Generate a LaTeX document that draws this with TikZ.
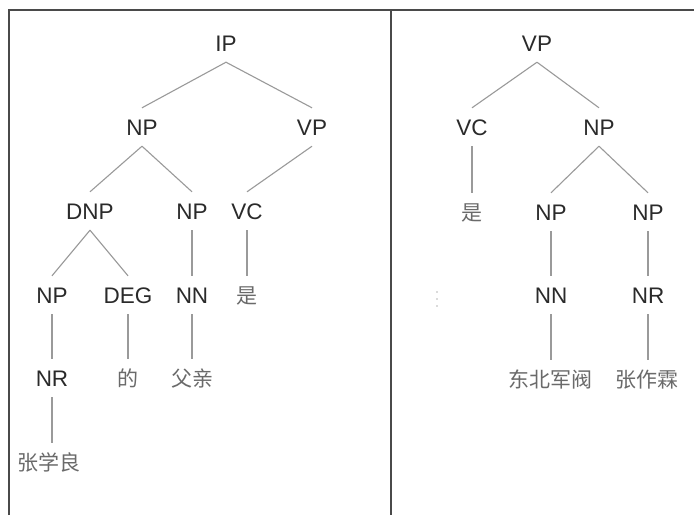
\documentclass[tikz,border=0pt]{standalone}
\usepackage{fontspec}
\setmainfont{Liberation Sans}
\newfontfamily\cjk{Noto Sans CJK SC}
\definecolor{labelc}{HTML}{2A2A2A}
\definecolor{wordc}{HTML}{6A6A6A}
\definecolor{edgec}{HTML}{9A9A9A}
\definecolor{framec}{HTML}{4A4A4A}
\tikzset{
  cat/.style={inner sep=0pt, text height=17pt, text depth=0pt, minimum height=38pt,
    font=\fontsize{22.5pt}{24pt}\selectfont, text=labelc},
  word/.style={inner sep=0pt, text height=17pt, text depth=0pt, minimum height=38pt,
    font=\fontsize{21pt}{24pt}\selectfont\cjk, text=wordc},
  edge/.style={draw=edgec, line width=1.1pt},
  frameline/.style={draw=framec, line width=1.5pt},
  speck/.style={fill=edgec!70, draw=none}
}
\begin{document}
\begin{tikzpicture}[x=1pt, y=-1pt]
\useasboundingbox (0,0) rectangle (694,515);
\fill[white] (0,0) rectangle (694,515);
% frame
\draw[frameline] (9,515) -- (9,10) -- (694,10);
\draw[frameline] (391,10) -- (391,515);

% left tree
\node[cat] (ip) at (226,43) {IP};
\node[cat] (np1) at (142,127) {NP};
\node[cat] (vp1) at (312,127) {VP};
\node[cat] (dnp) at (90,211) {DNP};
\node[cat] (np2) at (192,211) {NP};
\node[cat] (vc1) at (247,211) {VC};
\node[cat] (np3) at (52,295) {NP};
\node[cat] (deg) at (128,295) {DEG};
\node[cat] (nn1) at (192,295) {NN};
\node[word] (shi1) at (247,295) {是};
\node[cat] (nr1) at (52,378) {NR};
\node[word] (de) at (128,378) {的};
\node[word] (fuqin) at (192,378) {父亲};
\node[word] (zxl) at (49,462) {张学良};

\draw[edge] (ip.south) -- (np1.north);
\draw[edge] (ip.south) -- (vp1.north);
\draw[edge] (np1.south) -- (dnp.north);
\draw[edge] (np1.south) -- (np2.north);
\draw[edge] (vp1.south) -- (vc1.north);
\draw[edge] (dnp.south) -- (np3.north);
\draw[edge] (dnp.south) -- (deg.north);
\draw[edge] (np2.south) -- (nn1.north);
\draw[edge] (vc1.south) -- (shi1.north);
\draw[edge] (np3.south) -- (nr1.north);
\draw[edge] (deg.south) -- (de.north);
\draw[edge] (nn1.south) -- (fuqin.north);
\draw[edge] (nr1.south) -- (nr1.south |- zxl.north);

% right tree
\node[cat] (vp2) at (537,43) {VP};
\node[cat] (vc2) at (472,127) {VC};
\node[cat] (np4) at (599,127) {NP};
\node[word] (shi2) at (472,212) {是};
\node[cat] (np5) at (551,212) {NP};
\node[cat] (np6) at (648,212) {NP};
\node[cat] (nn2) at (551,295) {NN};
\node[cat] (nr2) at (648,295) {NR};
\node[word] (dbjf) at (550,379) {东北军阀};
\node[word] (zzl) at (647,379) {张作霖};

% faint specks
\fill[speck] (437,292) circle (0.8pt);
\fill[speck] (437,299) circle (0.8pt);
\fill[speck] (437,306) circle (0.8pt);

\draw[edge] (vp2.south) -- (vc2.north);
\draw[edge] (vp2.south) -- (np4.north);
\draw[edge] (vc2.south) -- (shi2.north);
\draw[edge] (np4.south) -- (np5.north);
\draw[edge] (np4.south) -- (np6.north);
\draw[edge] (np5.south) -- (nn2.north);
\draw[edge] (np6.south) -- (nr2.north);
\draw[edge] (nn2.south) -- (nn2.south |- dbjf.north);
\draw[edge] (nr2.south) -- (nr2.south |- zzl.north);
\end{tikzpicture}
\end{document}
